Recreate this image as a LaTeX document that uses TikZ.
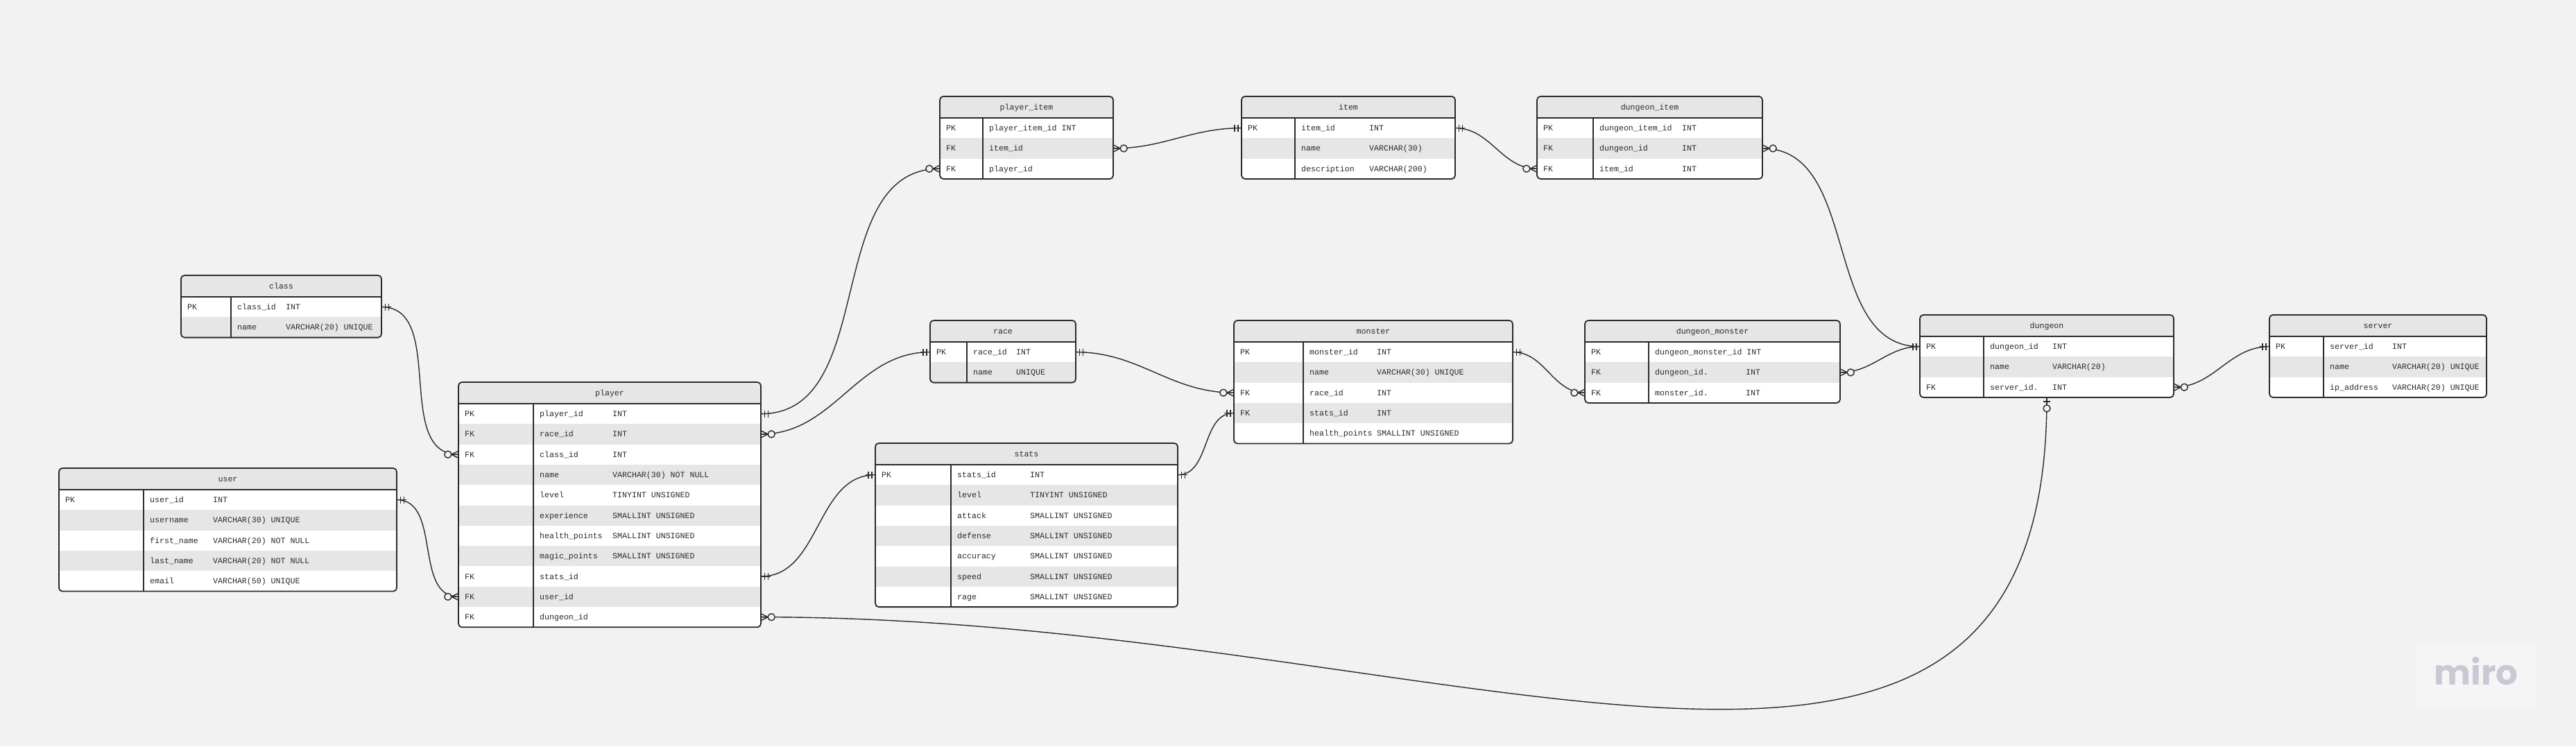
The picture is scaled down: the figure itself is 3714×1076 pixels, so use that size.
\documentclass[tikz,border=0pt]{standalone}
\usepackage{fontspec}
\setmonofont{Liberation Mono}
\newfontfamily\logofont{Poppins}

\definecolor{bgcol}{HTML}{F2F2F2}
\definecolor{rowgray}{HTML}{E6E6E6}
\definecolor{ink}{HTML}{2B2B2B}
\definecolor{logogray}{HTML}{C9C9D6}

% table: name, left, top, right, divider, type column, rows, title, fields
\newcommand\ertable[9]{%
  \pgfmathsetmacro\tbot{#3+31+29.3*#7}
  \pgfmathsetmacro\twid{#4-#2}
  \pgfmathsetmacro\thgt{\tbot-#3}
  \begin{scope}
    \clip[rounded corners=5pt] (#2,#3) rectangle (#4,\tbot);
    \fill[rowgray] (#2,#3) rectangle (#4,#3+31);
    \foreach \kk/\fn/\ty [count=\ri] in {#9} {
      \pgfmathsetmacro\yc{#3+31+29.3*(\ri-0.5)}
      \ifodd\ri\relax\def\rf{white}\else\def\rf{rowgray}\fi
      \node[rowbox, fill=\rf, minimum width=\twid pt] (#1-\ri) at ({(#2+#4)/2},\yc) {};
      \node[cell] at (#2+9,\yc+4) {\kk};
      \node[cell] at (#5+9,\yc+4) {\fn};
      \node[cell] at (#5+#6,\yc+4) {\ty};
    }
  \end{scope}
  \draw[frame] (#2,#3+31) -- (#4,#3+31) (#5,#3+31) -- (#5,\tbot);
  \node[tablebox, minimum width=\twid pt, minimum height=\thgt pt] (#1) at ({(#2+#4)/2},{(#3+\tbot)/2}) {};
  \node[cell, anchor=base] (#1-title) at ({(#2+#4)/2},#3+19.5) {#8};
}

\begin{document}
\begin{tikzpicture}[x=1pt,y=-1pt,
  frame/.style={draw=ink, line width=1.8pt},
  tablebox/.style={frame, rounded corners=5pt, inner sep=0pt},
  rowbox/.style={inner sep=0pt, minimum height=29.3pt},
  cell/.style={anchor=base west, inner sep=0pt, text=ink, font=\ttfamily\fontsize{11.6}{14}\selectfont},
  rel/.style={draw=ink, line width=1.4pt},
  logo/.style={text=logogray, font=\logofont\bfseries\fontsize{50}{50}\selectfont},
  pics/onemark/.style={code={
    \draw[rel] (0,0) -- (14,0) (5,-5) -- (5,5) (10,-5) -- (10,5);}},
  pics/manymark/.style={code={
    \draw[rel] (0,-5) -- (10,0) -- (0,5) (0,0) -- (10,0);
    \draw[rel, fill=bgcol] (15,0) circle (5pt);}},
  pics/zeroonemark/.style={code={
    \draw[rel] (0,0) -- (10,0) (5,-5) -- (5,5);
    \draw[rel, fill=bgcol] (15,0) circle (5pt);}}]

\useasboundingbox (0,0) rectangle (3714,1076);
\fill[bgcol] (0,0) rectangle (3714,1076);

% tables
\ertable{class}{261}{397}{550}{333}{79}{2}{class}{
  PK/class\_id/INT, /name/VARCHAR(20) UNIQUE}
\ertable{user}{85}{675}{572}{207}{100}{5}{user}{
  PK/user\_id/INT, /username/VARCHAR(30) UNIQUE, /first\_name/VARCHAR(20) NOT NULL,
  /last\_name/VARCHAR(20) NOT NULL, /email/VARCHAR(50) UNIQUE}
\ertable{player}{661}{551}{1097}{769}{114}{11}{player}{
  PK/player\_id/INT, FK/race\_id/INT, FK/class\_id/INT, /name/VARCHAR(30) NOT NULL,
  /level/TINYINT UNSIGNED, /experience/SMALLINT UNSIGNED, /health\_points/SMALLINT UNSIGNED,
  /magic\_points/SMALLINT UNSIGNED, FK/stats\_id/{}, FK/user\_id/{}, FK/dungeon\_id/{}}
\ertable{race}{1341}{462}{1551}{1394}{71}{2}{race}{
  PK/race\_id/INT, /name/UNIQUE}
\ertable{stats}{1262}{639}{1698}{1371}{114}{7}{stats}{
  PK/stats\_id/INT, /level/TINYINT UNSIGNED, /attack/SMALLINT UNSIGNED,
  /defense/SMALLINT UNSIGNED, /accuracy/SMALLINT UNSIGNED, /speed/SMALLINT UNSIGNED,
  /rage/SMALLINT UNSIGNED}
\ertable{pitem}{1355}{139}{1605}{1417}{110}{3}{player\_item}{
  PK/player\_item\_id INT/{}, FK/item\_id/{}, FK/player\_id/{}}
\ertable{item}{1790}{139}{2098}{1867}{107}{3}{item}{
  PK/item\_id/INT, /name/VARCHAR(30), /description/VARCHAR(200)}
\ertable{ditem}{2216}{139}{2541}{2297}{128}{3}{dungeon\_item}{
  PK/dungeon\_item\_id/INT, FK/dungeon\_id/INT, FK/item\_id/INT}
\ertable{monster}{1779}{462}{2181}{1879}{106}{5}{monster}{
  PK/monster\_id/INT, /name/VARCHAR(30) UNIQUE, FK/race\_id/INT, FK/stats\_id/INT,
  /health\_points/SMALLINT UNSIGNED}
\ertable{dmonster}{2285}{462}{2653}{2377}{140}{3}{dungeon\_monster}{
  PK/dungeon\_monster\_id INT/{}, FK/dungeon\_id./INT, FK/monster\_id./INT}
\ertable{dungeon}{2768}{454}{3134}{2860}{99}{3}{dungeon}{
  PK/dungeon\_id/INT, /name/VARCHAR(20), FK/server\_id./INT}
\ertable{server}{3272}{454}{3585}{3350}{99}{3}{server}{
  PK/server\_id/INT, /name/VARCHAR(20) UNIQUE, /ip\_address/VARCHAR(20) UNIQUE}

% relations
\draw[rel] (class-1.east) to[out=0,in=180] (player-3.west);
\draw[rel] (user-1.east) to[out=0,in=180] (player-10.west);
\draw[rel] (player-1.east) to[out=0,in=180] (pitem-3.west);
\draw[rel] (player-2.east) to[out=0,in=180] (race-1.west);
\draw[rel] (player-9.east) to[out=0,in=180] (stats-1.west);
\draw[rel] (player-11.east) .. controls +(1000,0) and +(0,770) .. (dungeon.south);
\draw[rel] (race-1.east) to[out=0,in=180] (monster-3.west);
\draw[rel] (stats-1.east) to[out=0,in=180] (monster-4.west);
\draw[rel] (pitem-2.east) to[out=0,in=180] (item-1.west);
\draw[rel] (item-1.east) to[out=0,in=180] (ditem-3.west);
\draw[rel] (ditem-2.east) to[out=0,in=180] (dungeon-1.west);
\draw[rel] (monster-1.east) to[out=0,in=180] (dmonster-3.west);
\draw[rel] (dmonster-2.east) to[out=0,in=180] (dungeon-1.west);
\draw[rel] (dungeon-3.east) to[out=0,in=180] (server-1.west);

\pic at (class-1.east) {onemark};
\pic[rotate=180] at (player-3.west) {manymark};
\pic at (user-1.east) {onemark};
\pic[rotate=180] at (player-10.west) {manymark};
\pic at (player-1.east) {onemark};
\pic[rotate=180] at (pitem-3.west) {manymark};
\pic at (player-2.east) {manymark};
\pic[rotate=180] at (race-1.west) {onemark};
\pic at (player-9.east) {onemark};
\pic[rotate=180] at (stats-1.west) {onemark};
\pic at (player-11.east) {manymark};
\pic[rotate=-90] at (dungeon.south) {zeroonemark};
\pic at (race-1.east) {onemark};
\pic[rotate=180] at (monster-3.west) {manymark};
\pic at (stats-1.east) {onemark};
\pic[rotate=180] at (monster-4.west) {onemark};
\pic at (pitem-2.east) {manymark};
\pic[rotate=180] at (item-1.west) {onemark};
\pic at (item-1.east) {onemark};
\pic[rotate=180] at (ditem-3.west) {manymark};
\pic at (ditem-2.east) {manymark};
\pic[rotate=180] at (dungeon-1.west) {onemark};
\pic at (monster-1.east) {onemark};
\pic[rotate=180] at (dmonster-3.west) {manymark};
\pic at (dmonster-2.east) {manymark};
\pic at (dungeon-3.east) {manymark};
\pic[rotate=180] at (server-1.west) {onemark};

% logo
\fill[white, opacity=0.3, rounded corners=4pt] (3483,927) rectangle (3656,1018);
\node[logo] (miro) at (3570,968) {miro};

\end{tikzpicture}
\end{document}
